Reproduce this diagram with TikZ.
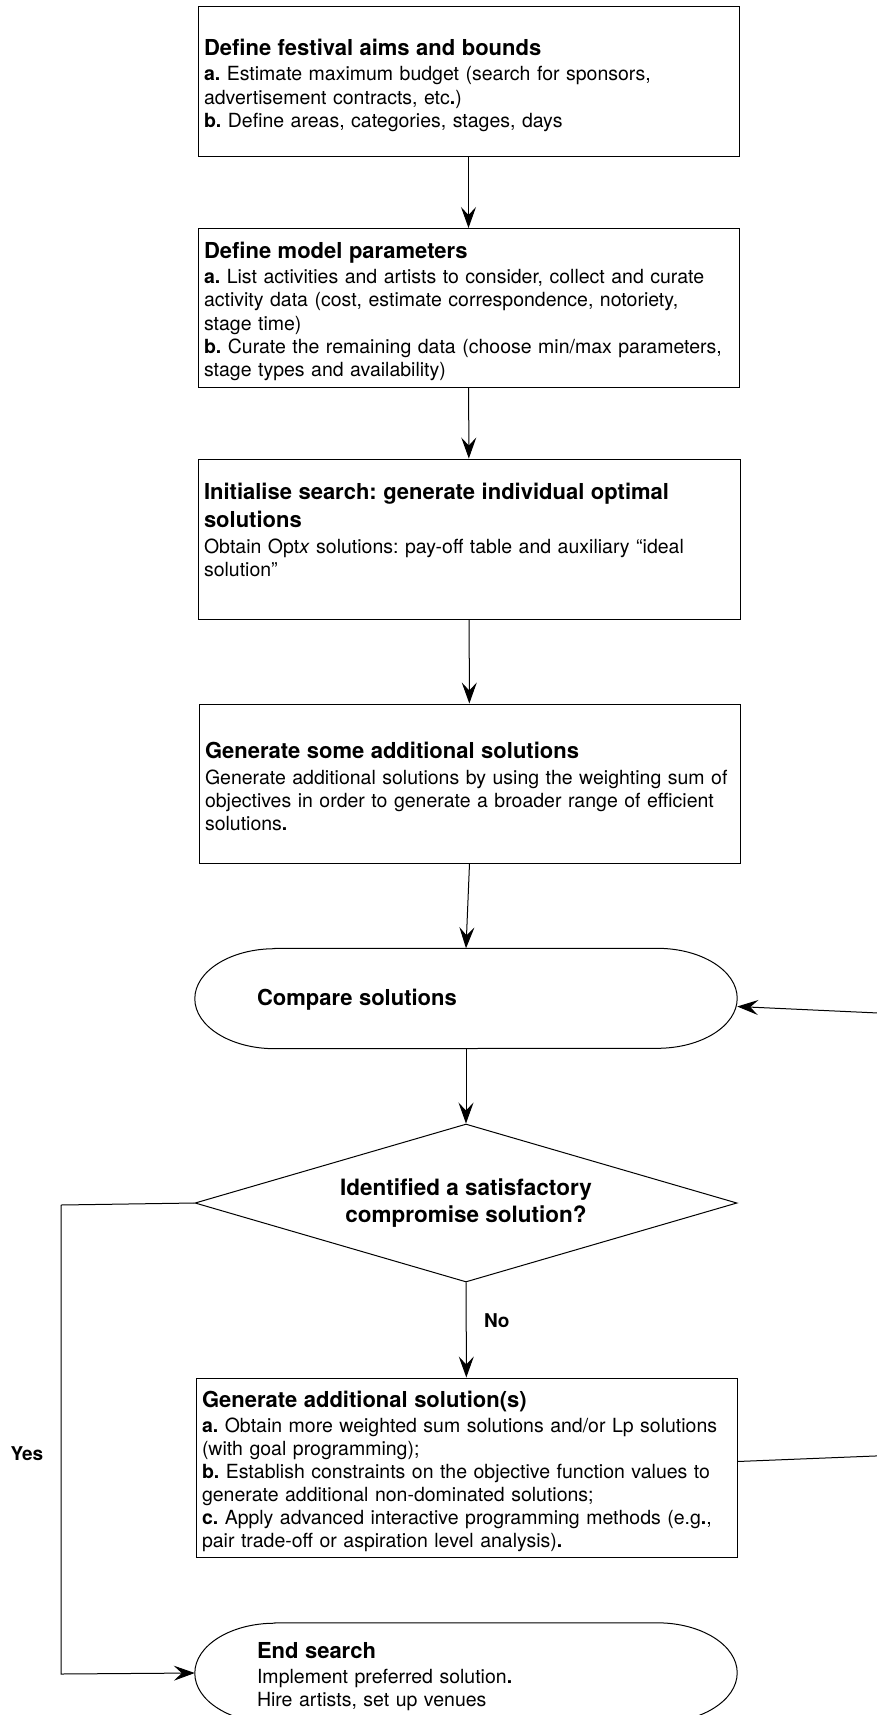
\documentclass[tikz,border=0pt]{standalone}
\usepackage{fontspec}
\setmainfont{TeX Gyre Heros}
\usetikzlibrary{arrows.meta,shapes.geometric}
\setlength{\parindent}{0pt}
\setlength{\parskip}{0pt}
\frenchspacing
\hyphenpenalty=10000
\exhyphenpenalty=10000
\newcommand\ttl[2][23pt]{{\fontsize{22}{28}\selectfont\bfseries\rule{0pt}{#1}#2\par}\vspace{2pt}}
\newcommand\bodyfont{\fontsize{19.5}{23.3}\selectfont\frenchspacing\hyphenpenalty=10000 }
\newcommand\stadium[1]{\draw[line width=1pt] ([xshift=80pt]#1.north west) -- ([xshift=-80pt]#1.north east) arc[start angle=90,end angle=-90,x radius=80pt,y radius=50pt] -- ([xshift=80pt]#1.south west) arc[start angle=270,end angle=90,x radius=80pt,y radius=50pt] -- cycle;}
\begin{document}
\begin{tikzpicture}[x=1pt,y=1pt,
  box/.style={draw,line width=1pt,rectangle,minimum width=541pt,text width=529pt,inner xsep=6pt,inner ysep=0pt,align=left,font=\bodyfont},
  term/.style={rectangle,minimum width=542pt,minimum height=100pt,text width=418pt,inner xsep=62pt,inner ysep=0pt,align=left,font=\bodyfont},
  arr/.style={line width=1pt,-{Stealth[length=21pt,width=15pt,inset=8pt]}},
  lnk/.style={line width=1pt},
  lbl/.style={font=\fontsize{19}{22}\selectfont\bfseries}]
\useasboundingbox (0,0) rectangle (877,-1715);
\clip (0,0) rectangle (877,-1715);

\node[box,minimum height=150pt] (b1) at (468.5,-82) {\ttl{Define festival aims and bounds}\textbf{a.} Estimate maximum budget (search for sponsors,\\ advertisement contracts, etc\textbf{.})\\ \textbf{b.} Define areas, categories, stages, days};

\node[box,minimum height=159pt] (b2) at (468.5,-308) {\ttl{Define model parameters}\textbf{a.} List activities and artists to consider, collect and curate\\ activity data (cost, estimate correspondence, notoriety,\\ stage time)\\ \textbf{b.} Curate the remaining data (choose min/max parameters,\\ stage types and availability)};

\node[box,minimum width=542pt,text width=530pt,minimum height=160pt] (b3) at (469,-539) {\ttl{Initialise search: generate individual optimal\\ solutions}Obtain Opt\textit{x} solutions: pay-off table and auxiliary “ideal\\ solution”\rule[-25pt]{0pt}{25pt}};

\node[box,minimum height=159pt] (b4) at (469.5,-783.5) {\ttl{Generate some additional solutions}Generate additional solutions by using the weighting sum of\\ objectives in order to generate a broader range of efficient\\ solutions\textbf{.}};

\node[term] (cmp) at (466,-998.5) {\fontsize{22}{28}\selectfont\bfseries\rule{0pt}{19pt}Compare solutions};
\stadium{cmp}

\node[draw,line width=1pt,diamond,minimum width=542pt,minimum height=158pt,aspect=3.43,inner sep=0pt,align=center,font=\fontsize{22.5}{26.5}\selectfont\bfseries] (dia) at (466,-1203) {Identified a satisfactory\\ compromise solution?};

\node[box,minimum height=179pt,font=\fontsize{19.5}{23}\selectfont] (b5) at (466.5,-1467.5) {\ttl[25pt]{Generate additional solution(s)}\textbf{a.} Obtain more weighted sum solutions and/or Lp solutions\\ (with goal programming);\\ \textbf{b.} Establish constraints on the objective function values to\\ generate additional non-dominated solutions;\\ \textbf{c.} Apply advanced interactive programming methods (e.g\textbf{.},\\ pair trade-off or aspiration level analysis)\textbf{.}};

\node[term] (end) at (466,-1673) {\ttl{End search}Implement preferred solution\textbf{.}\\ Hire artists, set up venues};
\stadium{end}

\coordinate (yesA) at (61,-1205);
\coordinate (yesB) at (61,-1674);
\coordinate (loopA) at (900,-1455);
\coordinate (loopB) at (900,-1014);

\draw[arr] (b1) -- (b2);
\draw[arr] (b2) -- (b3);
\draw[arr] (b3) -- (b4);
\draw[arr] (b4.south) -- (cmp.north);
\draw[arr] (cmp) -- (dia);
\draw[arr] (dia) -- node[lbl,pos=0.4,right=14pt] (no) {No} (b5);
\draw[lnk] (dia.west) -- (yesA);
\draw[arr] (yesA) -- node[lbl,pos=0.53,left=14pt] (yes) {Yes} (yesB) -- (end.west);
\draw[lnk] ([yshift=6pt]b5.east) -- (loopA) -- (loopB);
\draw[arr] (loopB) -- ([yshift=-8pt]cmp.east);
\end{tikzpicture}
\end{document}
